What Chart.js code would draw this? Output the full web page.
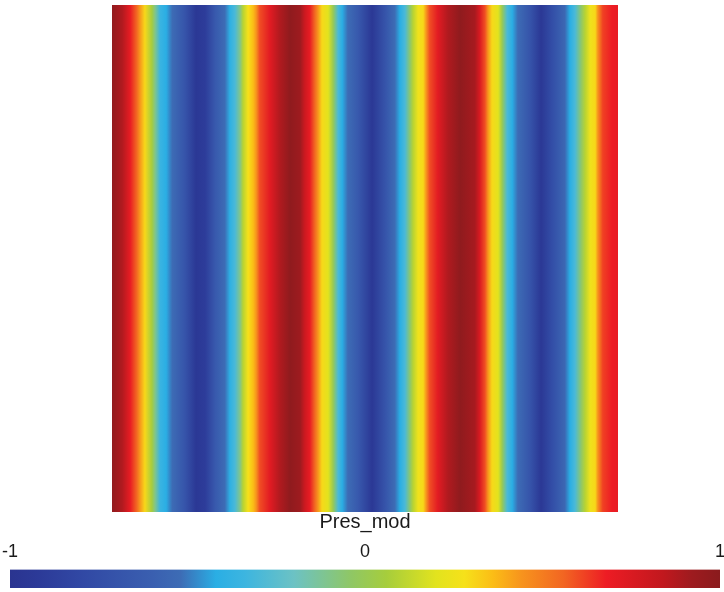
<!DOCTYPE html>
<html>
<head>
<meta charset="utf-8">
<script src="https://cdn.jsdelivr.net/npm/chart.js@4.4.0/dist/chart.umd.min.js"></script>
<style>
  html, body { margin: 0; padding: 0; background: #fff; }
  #wrap { position: relative; width: 724px; height: 592px; }
  #field { position: absolute; left: 112px; top: 5px; }
  #cbar { position: absolute; left: 0; top: 510px; }
</style>
</head>
<body>
<div id="wrap">
  <canvas id="field" width="506" height="507"></canvas>
  <canvas id="cbar" width="724" height="82"></canvas>
</div>
<script>
// colour scale of Pres_mod (value -> colour)
const cbarValues = [-1.00, -0.92, -0.80, -0.60, -0.52, -0.42, -0.34, -0.20, -0.04, 0.06,
                    0.20, 0.28, 0.36, 0.44, 0.56, 0.68, 0.84, 0.92, 1.00];
const cbarColors = ['#2a3490', '#2c3a98', '#3148a4', '#3a5fb0', '#3d6cb5', '#2aaee4', '#3cb5e0',
                    '#6cc2c4', '#8fc765', '#a6cd3c', '#e2e31e', '#f6e11a', '#fbbd16', '#f7941d',
                    '#f26522', '#ed1c24', '#c1181e', '#9e1b1f', '#8a1b1d'];
const cbarTicks = [-1, 0, 1];

// Pres_mod along x (field is constant in y), x as fraction of the domain width
const xPos = [0, 0.020, 0.036, 0.049, 0.055, 0.065, 0.079, 0.085, 0.095, 0.107,
              0.119, 0.144, 0.166, 0.184, 0.204, 0.223, 0.233, 0.243, 0.253, 0.259,
              0.269, 0.279, 0.285, 0.292, 0.312, 0.332, 0.352, 0.372, 0.381, 0.391,
              0.401, 0.407, 0.415, 0.427, 0.437, 0.447, 0.455, 0.466, 0.486, 0.514,
              0.540, 0.559, 0.569, 0.579, 0.589, 0.595, 0.605, 0.615, 0.621, 0.628,
              0.644, 0.664, 0.688, 0.717, 0.727, 0.737, 0.743, 0.751, 0.763, 0.771,
              0.781, 0.791, 0.802, 0.826, 0.848, 0.870, 0.895, 0.905, 0.915, 0.927,
              0.935, 0.945, 0.955, 0.960, 0.970, 0.988, 1.000];
const presValues = [0.97, 0.88, 0.70, 0.55, 0.44, 0.30, 0.05, -0.10, -0.35, -0.42,
                    -0.52, -0.70, -0.95, -0.90, -0.65, -0.52, -0.40, -0.30, -0.10, 0.10,
                    0.28, 0.36, 0.44, 0.60, 0.72, 0.88, 0.98, 0.92, 0.80, 0.70,
                    0.55, 0.44, 0.30, 0.20, 0.00, -0.30, -0.42, -0.52, -0.65, -0.95,
                    -0.70, -0.52, -0.42, -0.30, -0.05, 0.10, 0.25, 0.30, 0.44, 0.60,
                    0.72, 0.88, 0.98, 0.90, 0.75, 0.60, 0.44, 0.30, 0.20, 0.00,
                    -0.30, -0.42, -0.52, -0.70, -0.95, -0.75, -0.55, -0.42, -0.30, -0.05,
                    0.10, 0.25, 0.30, 0.44, 0.62, 0.68, 0.70];

const fontFamily = "'Liberation Sans', Arial, sans-serif";

function hexToRgb(h) {
    return [parseInt(h.slice(1, 3), 16), parseInt(h.slice(3, 5), 16), parseInt(h.slice(5, 7), 16)];
}

// look a value up in the colour bar
function colorFor(v) {
    if (v <= cbarValues[0]) return cbarColors[0];
    for (let i = 1; i < cbarValues.length; i++) {
        if (v <= cbarValues[i]) {
            const f = (v - cbarValues[i - 1]) / (cbarValues[i] - cbarValues[i - 1]);
            const a = hexToRgb(cbarColors[i - 1]);
            const b = hexToRgb(cbarColors[i]);
            const c = a.map((ch, k) => Math.round(ch + (b[k] - ch) * f));
            return `rgb(${c[0]},${c[1]},${c[2]})`;
        }
    }
    return cbarColors[cbarColors.length - 1];
}

function fieldGradient(context) {
    const chart = context.chart;
    const area = chart.chartArea;
    if (!area) return null;
    const xScale = chart.scales.x;
    const g = chart.ctx.createLinearGradient(area.left, 0, area.right, 0);
    xPos.forEach((x, i) => {
        const stop = (xScale.getPixelForValue(x) - area.left) / (area.right - area.left);
        g.addColorStop(Math.min(1, Math.max(0, stop)), colorFor(presValues[i]));
    });
    return g;
}

function barGradient(context) {
    const chart = context.chart;
    const area = chart.chartArea;
    if (!area) return null;
    const xScale = chart.scales.x;
    const g = chart.ctx.createLinearGradient(area.left, 0, area.right, 0);
    cbarValues.forEach((v, i) => {
        const stop = (xScale.getPixelForValue(v) - area.left) / (area.right - area.left);
        g.addColorStop(Math.min(1, Math.max(0, stop)), cbarColors[i]);
    });
    return g;
}

new Chart(document.getElementById('field'), {
    type: 'scatter',
    data: {
        datasets: [{
            data: xPos.map(x => ({ x: x, y: 1 })),
            showLine: true,
            fill: 'start',
            backgroundColor: fieldGradient,
            borderColor: 'transparent',
            borderWidth: 0,
            pointRadius: 0,
            tension: 0
        }]
    },
    options: {
        responsive: false,
        animation: false,
        layout: { padding: 0 },
        scales: {
            x: { type: 'linear', min: 0, max: 1, display: false },
            y: { type: 'linear', min: 0, max: 1, display: false }
        },
        plugins: { legend: { display: false }, tooltip: { enabled: false } }
    }
});

new Chart(document.getElementById('cbar'), {
    type: 'bar',
    data: {
        labels: ['Pres_mod'],
        datasets: [{
            data: [[cbarValues[0], cbarValues[cbarValues.length - 1]]],
            backgroundColor: barGradient,
            borderWidth: 0,
            barPercentage: 1,
            categoryPercentage: 1
        }]
    },
    options: {
        indexAxis: 'y',
        responsive: false,
        animation: false,
        layout: { padding: { left: 10, right: 4, top: 0, bottom: 4 } },
        scales: {
            x: {
                type: 'linear',
                position: 'top',
                min: -1,
                max: 1,
                afterBuildTicks: axis => { axis.ticks = cbarTicks.map(v => ({ value: v })); },
                // end labels hang over the bar ends, as in the original
                afterFit: axis => { axis.paddingLeft = 0; axis.paddingRight = 0; },
                ticks: {
                    padding: 7,
                    color: '#1a1a1a',
                    maxRotation: 0,
                    font: { family: fontFamily, size: 18 }
                },
                grid: { display: false, drawTicks: false },
                border: { display: false }
            },
            y: { display: false }
        },
        plugins: {
            legend: { display: false },
            tooltip: { enabled: false },
            title: {
                display: true,
                text: 'Pres_mod',
                color: '#1a1a1a',
                font: { family: fontFamily, size: 20, weight: 'normal' },
                padding: { top: 0, bottom: 0 }
            }
        }
    }
});
</script>
</body>
</html>
